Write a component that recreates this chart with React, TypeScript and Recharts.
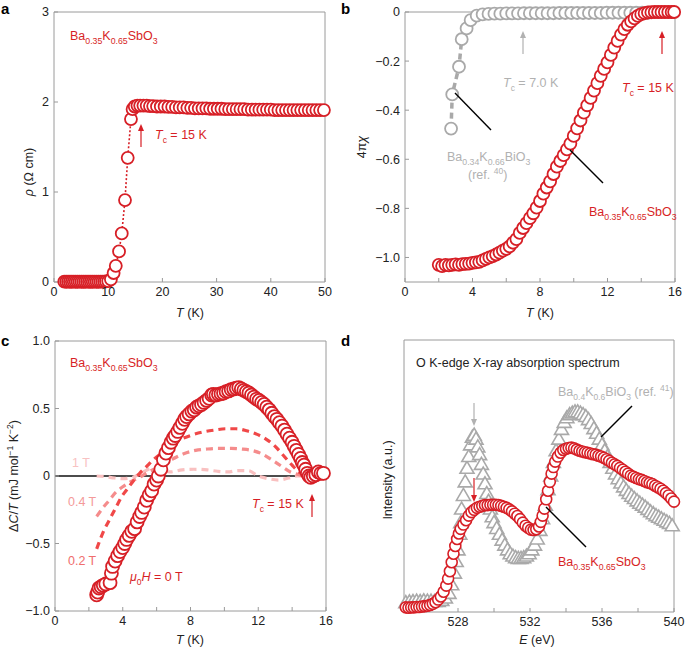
import React from "react";
import {
  ComposedChart,
  Line,
  ReferenceLine,
  Scatter,
  ScatterChart,
  XAxis,
  YAxis,
} from "recharts";

const RED = "#d71f26";
const GREY = "#a9a9a9";
const GREY_TEXT = "#b1b1b1";
const AXIS = "#9a9a9a";
const INK = "#222";

// a: resistivity (T in K, rho in Ohm cm)
const rhoPts: [number, number][] = [
  [1.9, 0.004], [2.25, 0.003], [2.6, 0.004], [2.95, 0.003], [3.3, 0.003], [3.65, 0.004],
  [4.0, 0.003], [4.35, 0.003], [4.7, 0.004], [5.05, 0.003], [5.4, 0.003], [5.75, 0.003],
  [6.1, 0.004], [6.45, 0.003], [6.8, 0.003], [7.15, 0.003], [7.5, 0.004], [7.85, 0.003],
  [8.2, 0.003], [8.55, 0.004], [8.9, 0.004], [9.25, 0.005], [9.6, 0.006], [10.0, 0.01],
  [10.5, 0.03], [11.0, 0.1], [11.4, 0.18], [12.0, 0.34], [12.5, 0.54], [13.1, 0.91],
  [13.6, 1.38], [14.2, 1.81], [14.5, 1.92], [14.9, 1.95], [15.4, 1.96], [15.9, 1.96],
  [16.5, 1.96], [17.1, 1.96], [17.7, 1.955], [18.3, 1.955], [19.0, 1.95], [19.7, 1.95],
  [20.4, 1.95], [21.1, 1.945], [21.8, 1.945], [22.5, 1.94], [23.2, 1.94], [23.9, 1.94],
  [24.6, 1.935], [25.3, 1.935], [26.0, 1.93], [26.7, 1.93], [27.4, 1.93], [28.1, 1.93],
  [28.8, 1.925], [29.5, 1.925], [30.2, 1.925], [30.9, 1.925], [31.6, 1.92], [32.3, 1.92],
  [33.0, 1.92], [33.7, 1.92], [34.4, 1.92], [35.1, 1.92], [35.8, 1.915], [36.5, 1.915],
  [37.2, 1.915], [37.9, 1.915], [38.6, 1.915], [39.3, 1.915], [40.0, 1.915], [40.7, 1.91],
  [41.4, 1.91], [42.1, 1.91], [42.8, 1.91], [43.5, 1.91], [44.2, 1.91], [44.9, 1.91],
  [45.6, 1.91], [46.3, 1.91], [47.0, 1.91], [47.7, 1.91], [48.4, 1.91], [49.1, 1.91],
  [49.8, 1.91],
];

// b: susceptibility 4πχ
const chiBiPts: [number, number][] = [
  [2.73, -0.475], [2.8, -0.336], [3.2, -0.223], [3.36, -0.111], [3.65, -0.067], [3.89, -0.033],
  [4.25, -0.015], [4.6, -0.01], [4.95, -0.008], [5.3, -0.007], [5.65, -0.007], [6.0, -0.006],
  [6.35, -0.006], [6.7, -0.006], [7.05, -0.005], [7.4, -0.005], [7.75, -0.005], [8.1, -0.005],
  [8.45, -0.005], [8.8, -0.005], [9.15, -0.004], [9.5, -0.004], [9.85, -0.004], [10.2, -0.004],
  [10.55, -0.004], [10.9, -0.004], [11.25, -0.004], [11.6, -0.004], [11.95, -0.003], [12.3, -0.003],
  [12.65, -0.003], [13.0, -0.003], [13.35, -0.003], [13.7, -0.003], [14.05, -0.003], [14.4, -0.003],
];

const chiSbPts: [number, number][] = [
  [2.0, -1.03], [2.2, -1.035], [2.4, -1.03], [2.6, -1.032], [2.8, -1.03], [3.0, -1.028],
  [3.2, -1.03], [3.4, -1.027], [3.6, -1.026], [3.8, -1.025], [4.0, -1.022], [4.2, -1.02],
  [4.4, -1.018], [4.6, -1.012], [4.8, -1.006], [5.0, -1.0], [5.2, -0.995], [5.4, -0.988],
  [5.6, -0.98], [5.8, -0.972], [6.0, -0.965], [6.2, -0.955], [6.4, -0.94], [6.6, -0.925],
  [6.8, -0.9], [7.0, -0.88], [7.2, -0.86], [7.4, -0.84], [7.6, -0.82], [7.8, -0.797],
  [8.0, -0.77], [8.2, -0.74], [8.4, -0.715], [8.6, -0.69], [8.8, -0.66], [9.0, -0.63],
  [9.2, -0.607], [9.4, -0.583], [9.6, -0.56], [9.8, -0.536], [10.0, -0.505], [10.2, -0.474],
  [10.4, -0.442], [10.6, -0.41], [10.8, -0.38], [11.0, -0.35], [11.2, -0.32], [11.4, -0.29],
  [11.6, -0.26], [11.8, -0.232], [12.0, -0.205], [12.2, -0.175], [12.4, -0.145], [12.6, -0.118],
  [12.8, -0.092], [13.0, -0.07], [13.2, -0.052], [13.4, -0.038], [13.6, -0.026], [13.8, -0.016],
  [14.0, -0.009], [14.2, -0.005], [14.4, -0.002], [14.6, -0.001], [14.8, 0], [15.0, 0],
  [15.2, 0], [15.4, 0], [15.6, 0], [15.8, 0], [15.95, 0],
];

// c: specific heat ΔC/T (mJ mol-1 K-2)
const c0Pts: [number, number][] = [
  [2.46, -0.88], [2.52, -0.86], [2.6, -0.83], [2.72, -0.82], [2.85, -0.81], [3.0, -0.8],
  [3.25, -0.79], [3.33, -0.72], [3.4, -0.67], [3.55, -0.63], [3.7, -0.59], [3.84, -0.56],
  [4.0, -0.53], [4.12, -0.5], [4.23, -0.47], [4.38, -0.44], [4.53, -0.41], [4.7, -0.39],
  [4.85, -0.34], [5.0, -0.3], [5.12, -0.27], [5.27, -0.23], [5.41, -0.18], [5.56, -0.14],
  [5.71, -0.11], [5.85, -0.06], [6.0, -0.03], [6.1, 0.0], [6.25, 0.05], [6.4, 0.12],
  [6.55, 0.17], [6.7, 0.21], [6.85, 0.25], [6.98, 0.28], [7.1, 0.3], [7.25, 0.33],
  [7.38, 0.36], [7.52, 0.39], [7.65, 0.42], [7.77, 0.44], [7.92, 0.46], [8.08, 0.48],
  [8.22, 0.49], [8.36, 0.51], [8.5, 0.52], [8.65, 0.53], [8.8, 0.545], [8.95, 0.56],
  [9.1, 0.575], [9.25, 0.6], [9.35, 0.605], [9.5, 0.6], [9.65, 0.605], [9.8, 0.61],
  [9.95, 0.615], [10.1, 0.625], [10.25, 0.63], [10.4, 0.64], [10.55, 0.645], [10.7, 0.65],
  [10.85, 0.655], [11.0, 0.645], [11.15, 0.635], [11.3, 0.625], [11.45, 0.615], [11.6, 0.6],
  [11.75, 0.585], [11.9, 0.57], [12.05, 0.56], [12.2, 0.545], [12.35, 0.53], [12.5, 0.51],
  [12.65, 0.49], [12.8, 0.465], [12.95, 0.44], [13.1, 0.42], [13.25, 0.395], [13.4, 0.37],
  [13.55, 0.34], [13.7, 0.31], [13.85, 0.28], [14.0, 0.25], [14.12, 0.22], [14.25, 0.19],
  [14.38, 0.16], [14.5, 0.13], [14.6, 0.1], [14.7, 0.08], [14.8, 0.05], [14.9, 0.02],
  [15.0, 0.0], [15.1, -0.01], [15.25, 0.0], [15.4, 0.01], [15.55, 0.03], [15.7, 0.02],
  [15.85, 0.02],
];

const c02Pts: [number, number][] = [
  [2.46, -0.54], [2.7, -0.46], [2.9, -0.4], [3.15, -0.34], [3.4, -0.28], [3.65, -0.22],
  [3.9, -0.16], [4.25, -0.1], [4.6, -0.04], [5.0, 0.02], [5.4, 0.07], [5.8, 0.12],
  [6.3, 0.17], [6.8, 0.22], [7.4, 0.27], [8.0, 0.3], [8.7, 0.325], [9.4, 0.34],
  [10.1, 0.35], [10.7, 0.35], [11.3, 0.335], [11.9, 0.31], [12.5, 0.27], [13.0, 0.22],
  [13.5, 0.15], [14.0, 0.08], [14.4, 0.03], [14.8, 0.0],
];

const c04Pts: [number, number][] = [
  [2.46, -0.3], [2.8, -0.24], [3.2, -0.18], [3.6, -0.12], [4.0, -0.08], [4.5, -0.04],
  [5.0, -0.01], [5.5, 0.03], [6.0, 0.06], [6.5, 0.1], [7.0, 0.13], [7.6, 0.165],
  [8.3, 0.19], [9.0, 0.2], [9.7, 0.205], [10.4, 0.205], [11.0, 0.2], [11.6, 0.19],
  [12.2, 0.165], [12.8, 0.12], [13.4, 0.07], [13.9, 0.03], [14.4, 0.01], [14.8, 0.0],
];

const c1Pts: [number, number][] = [
  [2.46, 0.0], [3.0, -0.005], [3.5, -0.015], [4.0, -0.02], [4.6, -0.01], [5.2, 0.03],
  [5.8, 0.06], [6.3, 0.04], [6.8, 0.03], [7.5, 0.045], [8.2, 0.05], [9.0, 0.045],
  [9.6, 0.035], [10.2, 0.03], [10.8, 0.04], [11.4, 0.04], [12.0, 0.0], [12.6, -0.02],
  [13.2, -0.03], [13.8, -0.015], [14.3, 0.0], [14.8, 0.0],
];

// d: O K-edge XAS (E in eV, intensity in a.u.)
const xasBiPts: [number, number][] = [
  [525.1, 0.24], [525.3, 0.26], [525.5, 0.27], [525.7, 0.28], [525.9, 0.27], [526.1, 0.29],
  [526.3, 0.28], [526.5, 0.28], [526.7, 0.27], [526.9, 0.27], [527.1, 0.3], [527.3, 0.36],
  [527.5, 0.48], [527.65, 0.7], [527.8, 1.0], [527.9, 1.3], [528.0, 1.6], [528.1, 2.0],
  [528.15, 2.3], [528.2, 2.65], [528.3, 3.0], [528.4, 3.35], [528.5, 3.7], [528.6, 4.0],
  [528.7, 4.3], [528.8, 4.5], [528.9, 4.55], [529.0, 4.45], [529.1, 4.25], [529.2, 4.05],
  [529.3, 3.8], [529.4, 3.55], [529.5, 3.3], [529.6, 3.05], [529.7, 2.85], [529.8, 2.65],
  [529.9, 2.45], [530.0, 2.3], [530.15, 2.15], [530.3, 2.0], [530.45, 1.85], [530.6, 1.72],
  [530.75, 1.6], [530.9, 1.5], [531.05, 1.44], [531.2, 1.4], [531.35, 1.38], [531.5, 1.38],
  [531.65, 1.4], [531.8, 1.44], [531.95, 1.5], [532.1, 1.6], [532.25, 1.72], [532.4, 1.88],
  [532.55, 2.1], [532.7, 2.4], [532.85, 2.75], [533.0, 3.15], [533.15, 3.5], [533.3, 3.85],
  [533.45, 4.15], [533.6, 4.45], [533.75, 4.7], [533.9, 4.88], [534.05, 5.0], [534.2, 5.08],
  [534.35, 5.12], [534.5, 5.15], [534.65, 5.15], [534.8, 5.12], [534.95, 5.08], [535.1, 5.03],
  [535.25, 4.95], [535.4, 4.85], [535.55, 4.72], [535.7, 4.6], [535.85, 4.45], [536.0, 4.3],
  [536.15, 4.15], [536.3, 4.0], [536.45, 3.85], [536.6, 3.7], [536.75, 3.55], [536.9, 3.43],
  [537.05, 3.32], [537.2, 3.22], [537.35, 3.13], [537.5, 3.05], [537.65, 2.98], [537.8, 2.92],
  [537.95, 2.86], [538.1, 2.8], [538.25, 2.75], [538.4, 2.7], [538.55, 2.64], [538.7, 2.58],
  [538.85, 2.53], [539.0, 2.48], [539.15, 2.44], [539.3, 2.4], [539.45, 2.36], [539.6, 2.32],
  [539.75, 2.28], [539.9, 2.22],
];

const xasSbPts: [number, number][] = [
  [525.1, 0.12], [525.25, 0.11], [525.4, 0.12], [525.55, 0.12], [525.7, 0.13], [525.85, 0.13],
  [526.0, 0.14], [526.15, 0.15], [526.3, 0.16], [526.45, 0.18], [526.6, 0.21], [526.75, 0.25],
  [526.9, 0.32], [527.05, 0.4], [527.2, 0.52], [527.35, 0.68], [527.45, 0.86], [527.55, 1.05],
  [527.65, 1.28], [527.75, 1.5], [527.85, 1.7], [527.95, 1.88], [528.05, 2.02], [528.15, 2.14],
  [528.3, 2.25], [528.45, 2.36], [528.6, 2.48], [528.75, 2.57], [528.9, 2.63], [529.05, 2.68],
  [529.2, 2.71], [529.35, 2.73], [529.5, 2.75], [529.65, 2.75], [529.8, 2.76], [529.95, 2.76],
  [530.1, 2.76], [530.25, 2.75], [530.4, 2.73], [530.55, 2.71], [530.7, 2.68], [530.85, 2.64],
  [531.0, 2.59], [531.15, 2.53], [531.3, 2.47], [531.45, 2.39], [531.6, 2.3], [531.75, 2.22],
  [531.9, 2.17], [532.05, 2.12], [532.2, 2.11], [532.35, 2.13], [532.5, 2.2], [532.6, 2.32],
  [532.7, 2.48], [532.8, 2.66], [532.9, 2.9], [533.0, 3.12], [533.1, 3.35], [533.2, 3.56],
  [533.3, 3.73], [533.4, 3.87], [533.55, 4.0], [533.7, 4.1], [533.85, 4.17], [534.0, 4.2],
  [534.15, 4.22], [534.3, 4.23], [534.45, 4.21], [534.6, 4.18], [534.75, 4.15], [534.9, 4.13],
  [535.05, 4.11], [535.2, 4.1], [535.35, 4.08], [535.5, 4.06], [535.65, 4.05], [535.8, 4.02],
  [535.95, 4.0], [536.1, 3.97], [536.25, 3.93], [536.4, 3.89], [536.55, 3.84], [536.7, 3.8],
  [536.85, 3.76], [537.0, 3.71], [537.15, 3.66], [537.3, 3.61], [537.45, 3.56], [537.6, 3.51],
  [537.75, 3.48], [537.9, 3.45], [538.05, 3.42], [538.2, 3.4], [538.35, 3.37], [538.5, 3.34],
  [538.65, 3.32], [538.8, 3.29], [538.95, 3.25], [539.1, 3.21], [539.25, 3.17], [539.4, 3.12],
  [539.55, 3.06], [539.7, 3.0], [539.85, 2.92], [540.0, 2.84],
];

const aXTicks = [0, 10, 20, 30, 40, 50];
const aYTicks = [0, 1, 2, 3];
const tXTicks = [0, 2, 4, 6, 8, 10, 12, 14, 16];
const bYTicks = [0, -0.2, -0.4, -0.6, -0.8, -1.0];
const cYTicks = [1, 0.5, 0, -0.5, -1];
const dXTicks = [526, 528, 530, 532, 534, 536, 538, 540];
const dYTicks = [1, 2, 3, 4, 5, 6];

const xy = (pts: [number, number][]) => pts.map(([x, y]) => ({ x, y }));

const minus = (s: string) => s.replace("-", "\u2212");
const fmtB = (v: number) => (v === 0 ? "0" : minus(v.toFixed(1)));
const fmtT = (v: number) => (v % 4 === 0 ? String(v) : "");
const fmtE = (v: number) => (v % 4 === 0 ? String(v) : "");

const tick = { fontSize: 12.5, fill: INK };
const axis = { stroke: AXIS, tickSize: -4, tickMargin: 9, tick, type: "number" as const };

const ring = (r: number, color: string, w = 1.8) => (p: any) => (
  <circle cx={p.cx} cy={p.cy} r={r} fill="#fff" stroke={color} strokeWidth={w} />
);
const tri = (p: any) => (
  <polygon
    points={`${p.cx},${p.cy - 7} ${p.cx - 7},${p.cy + 5} ${p.cx + 7},${p.cy + 5}`}
    fill="#fff"
    stroke={GREY}
    strokeWidth={1.6}
  />
);

function Chem({ x, y, fill, parts, size = 12.5 }: { x: number; y: number; fill: string; parts: string[]; size?: number }) {
  return (
    <text x={x} y={y} fill={fill} fontSize={size}>
      {parts.map((p, i) =>
        i % 2 === 0 ? (
          <tspan key={i} dy={i === 0 ? 0 : -3.5}>{p}</tspan>
        ) : (
          <tspan key={i} dy={3.5} fontSize={size * 0.7}>{p}</tspan>
        )
      )}
    </text>
  );
}

function Tc({ x, y, fill, value }: { x: number; y: number; fill: string; value: string }) {
  return (
    <text x={x} y={y} fill={fill} fontSize={12.5}>
      <tspan fontStyle="italic">T</tspan>
      <tspan dy={3.5} fontSize={8.5}>c</tspan>
      <tspan dy={-3.5}>{` = ${value} K`}</tspan>
    </text>
  );
}

function Arrow({ x, from, to, color }: { x: number; from: number; to: number; color: string }) {
  const d = to < from ? 1 : -1;
  return (
    <g>
      <line x1={x} y1={from} x2={x} y2={to + d * 5} stroke={color} strokeWidth={1.2} />
      <polygon points={`${x},${to} ${x - 3},${to + d * 7} ${x + 3},${to + d * 7}`} fill={color} />
    </g>
  );
}

function VLabel({ x, y, children }: { x: number; y: number; children: React.ReactNode }) {
  return (
    <text x={x} y={y} transform={`rotate(-90 ${x} ${y})`} textAnchor="middle" fontSize={12.5} fill={INK}>
      {children}
    </text>
  );
}

function Overlay() {
  const panel = { fontSize: 15, fontWeight: 700, fill: "#000" };
  return (
    <svg width={685} height={648} style={{ position: "absolute", left: 0, top: 0, pointerEvents: "none" }}>
      <text x={1} y={14} {...panel}>a</text>
      <text x={341} y={14} {...panel}>b</text>
      <text x={1} y={346} {...panel}>c</text>
      <text x={341} y={346} {...panel}>d</text>

      {/* a */}
      <Chem x={70} y={40} fill={RED} parts={["Ba", "0.35", "K", "0.65", "SbO", "3"]} />
      <Tc x={155} y={139} fill={RED} value="15" />
      <Arrow x={141} from={147} to={124} color={RED} />
      <VLabel x={33} y={172}>
        <tspan fontStyle="italic">ρ</tspan> (Ω cm)
      </VLabel>
      <text x={190} y={317} textAnchor="middle" fontSize={12.5} fill={INK}>
        <tspan fontStyle="italic">T</tspan> (K)
      </text>

      {/* b */}
      <Tc x={503} y={87} fill={GREY_TEXT} value="7.0" />
      <Arrow x={523} from={54} to={31} color={GREY_TEXT} />
      <Tc x={622} y={92} fill={RED} value="15" />
      <Arrow x={662} from={54} to={31} color={RED} />
      <Chem x={447} y={161} fill={GREY_TEXT} parts={["Ba", "0.34", "K", "0.66", "BiO", "3"]} />
      <text x={468} y={179} fill={GREY_TEXT} fontSize={12.5}>
        (ref. <tspan dy={-5} fontSize={8.5}>40</tspan>
        <tspan dy={5}>)</tspan>
      </text>
      <line x1={455} y1={93} x2={491} y2={130} stroke="#000" strokeWidth={1.4} />
      <Chem x={589} y={216} fill={RED} parts={["Ba", "0.35", "K", "0.65", "SbO", "3"]} />
      <line x1={570} y1={150} x2={603} y2={183} stroke="#000" strokeWidth={1.4} />
      <VLabel x={366} y={147}>
        4π<tspan fontStyle="italic">χ</tspan>
      </VLabel>
      <text x={540} y={317} textAnchor="middle" fontSize={12.5} fill={INK}>
        <tspan fontStyle="italic">T</tspan> (K)
      </text>

      {/* c */}
      <Chem x={70} y={367} fill={RED} parts={["Ba", "0.35", "K", "0.65", "SbO", "3"]} />
      <text x={72} y={467} fill="#f8c2c2" fontSize={12.5}>1 T</text>
      <text x={68} y={506} fill="#f49a9a" fontSize={12.5}>0.4 T</text>
      <text x={68} y={565} fill="#ef6d6d" fontSize={12.5}>0.2 T</text>
      <text x={130} y={581} fill={RED} fontSize={12.5}>
        <tspan fontStyle="italic">μ</tspan>
        <tspan dy={3.5} fontSize={8.5}>0</tspan>
        <tspan dy={-3.5} fontStyle="italic">H</tspan>
        <tspan> = 0 T</tspan>
      </text>
      <Tc x={252} y={508} fill={RED} value="15" />
      <Arrow x={312} from={517} to={494} color={RED} />
      <VLabel x={18} y={476}>
        Δ<tspan fontStyle="italic">C</tspan>/<tspan fontStyle="italic">T</tspan> (mJ mol
        <tspan dy={-5} fontSize={8.5}>−1</tspan>
        <tspan dy={5}> K</tspan>
        <tspan dy={-5} fontSize={8.5}>−2</tspan>
        <tspan dy={5}>)</tspan>
      </VLabel>
      <text x={190} y={644} textAnchor="middle" fontSize={12.5} fill={INK}>
        <tspan fontStyle="italic">T</tspan> (K)
      </text>

      {/* d */}
      <text x={416} y={367} fill={INK} fontSize={12.5}>O K-edge X-ray absorption spectrum</text>
      <text x={558} y={396} fill={GREY_TEXT} fontSize={12.5}>
        Ba<tspan dy={3.5} fontSize={8.5}>0.4</tspan>
        <tspan dy={-3.5}>K</tspan>
        <tspan dy={3.5} fontSize={8.5}>0.6</tspan>
        <tspan dy={-3.5}>BiO</tspan>
        <tspan dy={3.5} fontSize={8.5}>3</tspan>
        <tspan dy={-3.5}> (ref. </tspan>
        <tspan dy={-5} fontSize={8.5}>41</tspan>
        <tspan dy={5}>)</tspan>
      </text>
      <line x1={632} y1={406} x2={601} y2={437} stroke="#000" strokeWidth={1.4} />
      <Chem x={558} y={566} fill={RED} parts={["Ba", "0.35", "K", "0.65", "SbO", "3"]} />
      <line x1={546} y1={507} x2={586} y2={547} stroke="#000" strokeWidth={1.4} />
      <Arrow x={474} from={403} to={426} color={GREY_TEXT} />
      <Arrow x={474} from={478} to={502} color={RED} />
      <VLabel x={392} y={480}>Intensity (a.u.)</VLabel>
      <text x={537} y={644} textAnchor="middle" fontSize={12.5} fill={INK}>
        <tspan fontStyle="italic">E</tspan> (eV)
      </text>
    </svg>
  );
}

export default function App() {
  const abs = (left: number, top: number) => ({ position: "absolute" as const, left, top });
  return (
    <div
      style={{
        position: "absolute",
        left: 0,
        top: 0,
        width: 685,
        height: 648,
        background: "#fff",
        fontFamily: "'Liberation Sans', Arial, Helvetica, sans-serif",
      }}
    >
      <div style={abs(0, 0)}>
        <ScatterChart width={340} height={300} margin={{ top: 12, right: 15, bottom: 0, left: 0 }}>
          <XAxis dataKey="x" {...axis} domain={[0, 50]} ticks={aXTicks} height={18} />
          <YAxis dataKey="y" {...axis} domain={[0, 3]} ticks={aYTicks} width={54} />
          <ReferenceLine x={50} stroke={AXIS} />
          <ReferenceLine y={3} stroke={AXIS} />
          <Scatter
            data={xy(rhoPts)}
            line={{ stroke: RED, strokeWidth: 1.6, strokeDasharray: "2 2" }}
            shape={ring(6, RED)}
            isAnimationActive={false}
          />
        </ScatterChart>
      </div>

      <div style={abs(340, 0)}>
        <ScatterChart width={345} height={300} margin={{ top: 12, right: 10, bottom: 0, left: 0 }}>
          <XAxis dataKey="x" {...axis} domain={[0, 16]} ticks={tXTicks} tickFormatter={fmtT} height={18} />
          <YAxis dataKey="y" {...axis} domain={[-1.1, 0]} ticks={bYTicks} tickFormatter={fmtB} width={65} />
          <ReferenceLine x={16} stroke={AXIS} />
          <ReferenceLine y={0} stroke={AXIS} />
          <Scatter
            data={xy(chiBiPts)}
            line={{ stroke: GREY, strokeWidth: 3.5, strokeDasharray: "6 4" }}
            shape={ring(6, GREY)}
            isAnimationActive={false}
          />
          <Scatter data={xy(chiSbPts)} shape={ring(6, RED)} isAnimationActive={false} />
        </ScatterChart>
      </div>

      <div style={abs(0, 330)}>
        <ComposedChart width={340} height={318} margin={{ top: 11, right: 14, bottom: 0, left: 0 }}>
          <XAxis dataKey="x" {...axis} domain={[0, 16]} ticks={tXTicks} tickFormatter={fmtT} height={37} />
          <YAxis dataKey="y" {...axis} domain={[-1, 1]} ticks={cYTicks} tickFormatter={fmtB} width={55} />
          <ReferenceLine x={16} stroke={AXIS} />
          <ReferenceLine y={1} stroke={AXIS} />
          <ReferenceLine y={0} stroke="#111" strokeWidth={1.5} />
          <Line data={xy(c1Pts)} dataKey="y" type="monotone" dot={false} stroke="#f9c0c0" strokeWidth={3.2} strokeDasharray="7 5" isAnimationActive={false} />
          <Line data={xy(c04Pts)} dataKey="y" type="monotone" dot={false} stroke="#f58c8c" strokeWidth={3.2} strokeDasharray="7 5" isAnimationActive={false} />
          <Line data={xy(c02Pts)} dataKey="y" type="monotone" dot={false} stroke="#f04848" strokeWidth={3.2} strokeDasharray="7 5" isAnimationActive={false} />
          <Scatter data={xy(c0Pts)} shape={ring(6.5, RED)} isAnimationActive={false} />
        </ComposedChart>
      </div>

      <div style={abs(340, 330)}>
        <ScatterChart width={345} height={318} margin={{ top: 10, right: 11, bottom: 0, left: 0 }}>
          <XAxis dataKey="x" {...axis} domain={[525, 540]} ticks={dXTicks} tickFormatter={fmtE} height={36} />
          <YAxis dataKey="y" {...axis} domain={[0, 7]} ticks={dYTicks} tick={false} width={64} />
          <ReferenceLine x={540} stroke={AXIS} />
          <ReferenceLine y={7} stroke={AXIS} />
          <Scatter data={xy(xasBiPts)} shape={tri} isAnimationActive={false} />
          <Scatter data={xy(xasSbPts)} shape={ring(5.5, RED, 1.6)} isAnimationActive={false} />
        </ScatterChart>
      </div>

      <Overlay />
    </div>
  );
}
